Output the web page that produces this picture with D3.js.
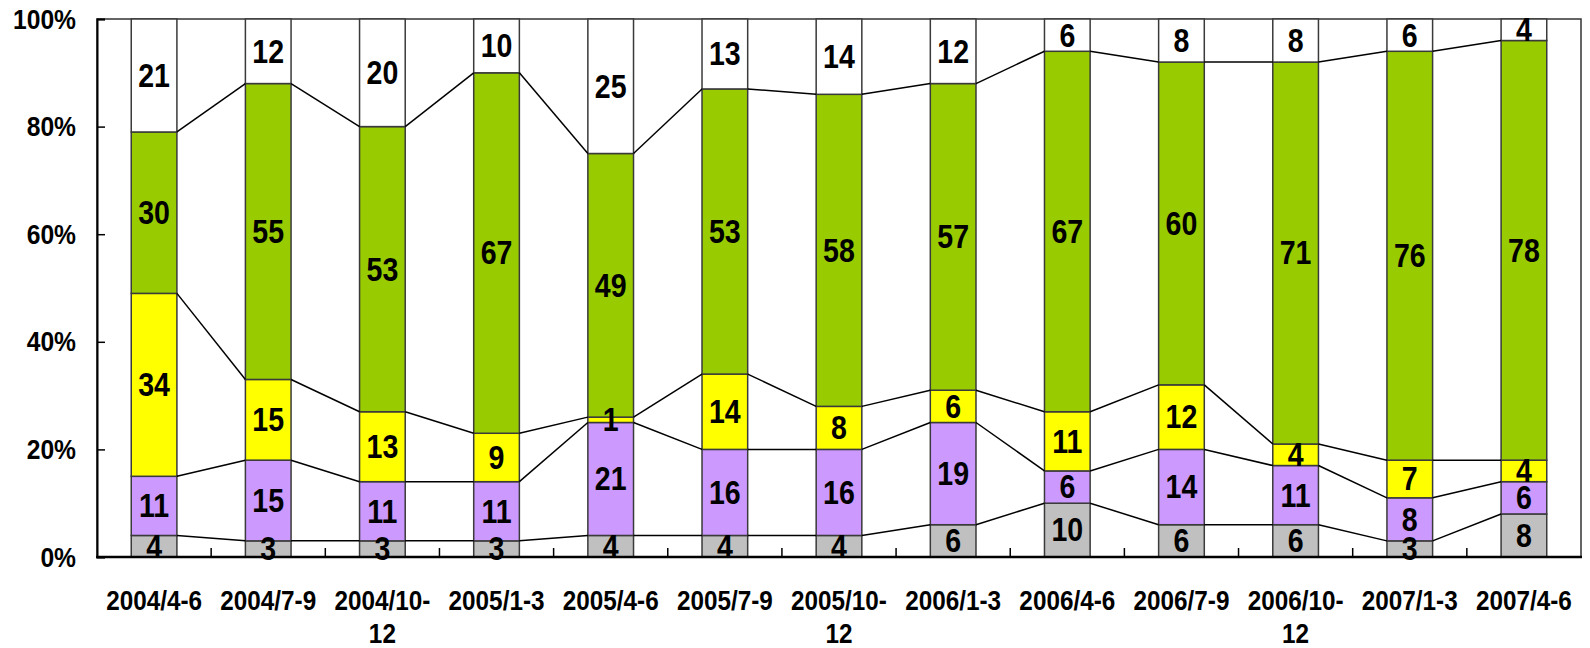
<!DOCTYPE html>
<html>
<head>
<meta charset="utf-8">
<script src="https://cdn.jsdelivr.net/npm/d3@7"></script>
<style>
  html, body { margin: 0; padding: 0; background: #fff; }
  svg { display: block; }
  text { font-family: "Liberation Sans", Arial, sans-serif; font-weight: bold; fill: #000; }
</style>
</head>
<body>
<svg id="chart" width="1590" height="648"></svg>
<script>
const categories = ["2004/4-6","2004/7-9","2004/10-12","2005/1-3","2005/4-6","2005/7-9","2005/10-12","2006/1-3","2006/4-6","2006/7-9","2006/10-12","2007/1-3","2007/4-6"];
const categoryLines = [["2004/4-6"],["2004/7-9"],["2004/10-","12"],["2005/1-3"],["2005/4-6"],["2005/7-9"],["2005/10-","12"],["2006/1-3"],["2006/4-6"],["2006/7-9"],["2006/10-","12"],["2007/1-3"],["2007/4-6"]];
const seriesGray   = [4,3,3,3,4,4,4,6,10,6,6,3,8];
const seriesPurple = [11,15,11,11,21,16,16,19,6,14,11,8,6];
const seriesYellow = [34,15,13,9,1,14,8,6,11,12,4,7,4];
const seriesGreen  = [30,55,53,67,49,53,58,57,67,60,71,76,78];
const seriesWhite  = [21,12,20,10,25,13,14,12,6,8,8,6,4];
const yTicks = [0,20,40,60,80,100];
const yTickLabels = ["0%","20%","40%","60%","80%","100%"];

const seriesKeys = ["gray","purple","yellow","green","white"];
const colors = {gray:"#C0C0C0", purple:"#CC99FF", yellow:"#FFFF00", green:"#99CC00", white:"#FFFFFF"};
const seriesData = {gray:seriesGray, purple:seriesPurple, yellow:seriesYellow, green:seriesGreen, white:seriesWhite};

const table = categories.map((c,i) => {
  const row = {cat:c};
  seriesKeys.forEach(k => row[k] = seriesData[k][i]);
  return row;
});

const svg = d3.select("#chart");
const L = 97, R = 1581, T = 19, B = 557;

const x = d3.scaleBand().domain(categories).range([L, R]).paddingInner(0.6).paddingOuter(0.3);
const xOuter = d3.scaleBand().domain(categories).range([L, R]).padding(0);
const y = d3.scaleLinear().domain([0,100]).range([B, T]);

const stacked = d3.stack().keys(seriesKeys)(table);

// plot border (top/right)
svg.append("rect").attr("x", L).attr("y", T).attr("width", R-L).attr("height", B-T)
  .attr("fill","none").attr("stroke","#333").attr("stroke-width",1.5);

// bars
const g = svg.append("g");
stacked.forEach(layer => {
  g.selectAll(null).data(layer).enter().append("rect")
    .attr("x", d => x(d.data.cat))
    .attr("y", d => y(d[1]))
    .attr("width", x.bandwidth())
    .attr("height", d => y(d[0]) - y(d[1]))
    .attr("fill", colors[layer.key])
    .attr("stroke", "#3a3a3a")
    .attr("stroke-width", 1.5);
});

// series connector lines (top of first four layers)
stacked.slice(0,4).forEach(layer => {
  for (let i = 0; i < layer.length - 1; i++) {
    const a = layer[i], b = layer[i+1];
    svg.append("line")
      .attr("x1", x(a.data.cat) + x.bandwidth()).attr("y1", y(a[1]))
      .attr("x2", x(b.data.cat)).attr("y2", y(b[1]))
      .attr("stroke", "#000").attr("stroke-width", 1.5);
  }
});

// axes: left and bottom
const yAxis = d3.axisLeft(y).tickValues(yTicks).tickSize(-8).tickFormat("");
const yg = svg.append("g").attr("transform", `translate(${L},0)`).call(yAxis);
yg.select(".domain").attr("stroke","#000").attr("stroke-width",2);
yg.selectAll(".tick line").attr("stroke","#000").attr("stroke-width",1.5);

const xTickPos = categories.slice(1).map(c => xOuter(c));
const xb = svg.append("g");
xb.append("line").attr("x1", L-1).attr("x2", R+1).attr("y1", B).attr("y2", B)
  .attr("stroke","#000").attr("stroke-width",2.5);
xb.selectAll(null).data(xTickPos).enter().append("line")
  .attr("x1", d => d).attr("x2", d => d).attr("y1", B).attr("y2", B-9)
  .attr("stroke","#000").attr("stroke-width",1.5);

// y tick labels
svg.selectAll(null).data(yTicks).enter().append("text")
  .attr("transform", (d) => `translate(76,${y(d)}) scale(0.88,1)`)
  .attr("text-anchor","end").attr("dominant-baseline","central")
  .style("font-size","28px")
  .text((d,i) => yTickLabels[i]);

// x labels
categories.forEach((c,i) => {
  const cx = xOuter(c) + xOuter.bandwidth()/2;
  categoryLines[i].forEach((ln, j) => {
    svg.append("text")
      .attr("transform", `translate(${cx},${610 + j*33}) scale(0.9,1)`)
      .attr("text-anchor","middle")
      .style("font-size","27px")
      .text(ln);
  });
});

// value labels
stacked.forEach(layer => {
  svg.selectAll(null).data(layer).enter().append("text")
    .attr("transform", d => `translate(${x(d.data.cat) + x.bandwidth()/2},${y((d[0]+d[1])/2)}) scale(0.84,1)`)
    .attr("text-anchor","middle").attr("dominant-baseline","central")
    .style("font-size","34px")
    .text(d => d[1]-d[0]);
});
</script>
</body>
</html>
